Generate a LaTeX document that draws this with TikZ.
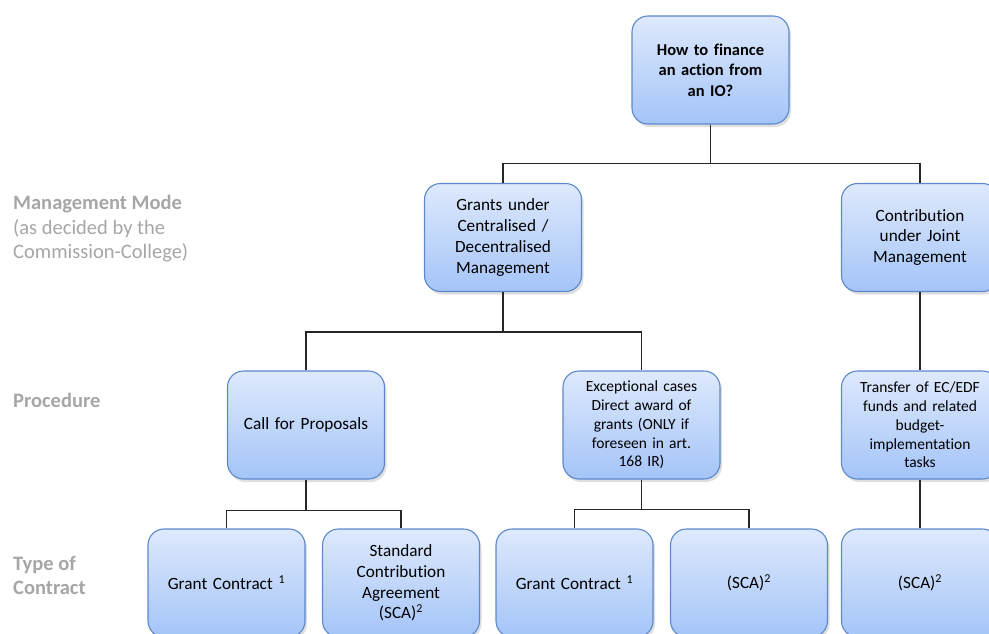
\documentclass[tikz,border=0pt]{standalone}
\usepackage{fontspec}
\setmainfont{Carlito}[Ligatures=NoCommon]
\usepackage{tikz}
\usepackage{xcolor}
\usetikzlibrary{shadows}
\definecolor{boxtop}{RGB}{222,233,252}
\definecolor{boxbottom}{RGB}{164,196,248}
\definecolor{boxline}{RGB}{92,136,204}
\definecolor{labelgrey}{RGB}{166,166,166}
\tikzset{
	box/.style={draw=boxline,line width=1.1pt,rounded corners=16pt,top color=boxtop,bottom color=boxbottom,
		minimum width=157pt,minimum height=108pt,text width=148pt,align=center,inner sep=0pt,
		font=\fontsize{17.2}{20.8}\selectfont,
		drop shadow={shadow xshift=2pt,shadow yshift=-3pt,opacity=0.25}},
	smalltext/.style={font=\fontsize{15.5}{18.7}\selectfont},
	rowlabel/.style={anchor=north west,inner sep=0pt,align=left,text=labelgrey,font=\fontsize{20.5}{24.5}\selectfont},
	link/.style={line width=1.2pt,draw=black!85}
}
\begin{document}
\begin{tikzpicture}[x=1pt,y=-1pt]
	\clip (0,0) rectangle (989,633);
	\node [rowlabel] (modelabel) at (13,195){\textbf{Management Mode}\\(as decided by the\\Commission-College)};
	\node [rowlabel] (proclabel) at (13,393){\textbf{Procedure}};
	\node [rowlabel] (typelabel) at (13,556){\textbf{Type of}\\\textbf{Contract}};
	\node [box,font=\bfseries\fontsize{16.5}{20.7}\selectfont] (top) at (710.5,70){How to finance\\an action from\\an IO?};
	\node [box] (grants) at (503,237.5){Grants under\\Centralised /\\Decentralised\\Management};
	\node [box] (contrib) at (920,237.5){Contribution\\under Joint\\Management};
	\node [box] (call) at (306,425){Call for Proposals};
	\node [box,smalltext] (except) at (641.5,425){Exceptional cases\\Direct award of\\grants (ONLY if\\foreseen in art.\\168 IR)};
	\node [box,smalltext] (transfer) at (920,425){Transfer of EC/EDF\\funds and related\\budget-\\implementation\\tasks};
	\node [box] (gca) at (226.5,583){Grant Contract \textsuperscript{1}};
	\node [box] (scaa) at (401,583){Standard\\Contribution\\Agreement\\(SCA)\textsuperscript{2}};
	\node [box] (gcb) at (574.5,583){Grant Contract \textsuperscript{1}};
	\node [box] (scab) at (749,583){(SCA)\textsuperscript{2}};
	\node [box] (scac) at (920,583){(SCA)\textsuperscript{2}};
	\draw [link](top.south)--++(0,39)-|(grants.north);
	\draw [link](top.south)--++(0,39)-|(contrib.north);
	\draw [link](grants.south)--++(0,40)-|(call.north);
	\draw [link](grants.south)--++(0,40)-|(except.north);
	\draw [link](call.south)--++(0,31)-|(gca.north);
	\draw [link](call.south)--++(0,31)-|(scaa.north);
	\draw [link](except.south)--++(0,30)-|(gcb.north);
	\draw [link](except.south)--++(0,30)-|(scab.north);
	\draw [link](contrib.south)--(transfer.north);
	\draw [link](transfer.south)--(scac.north);
\end{tikzpicture}
\end{document}
